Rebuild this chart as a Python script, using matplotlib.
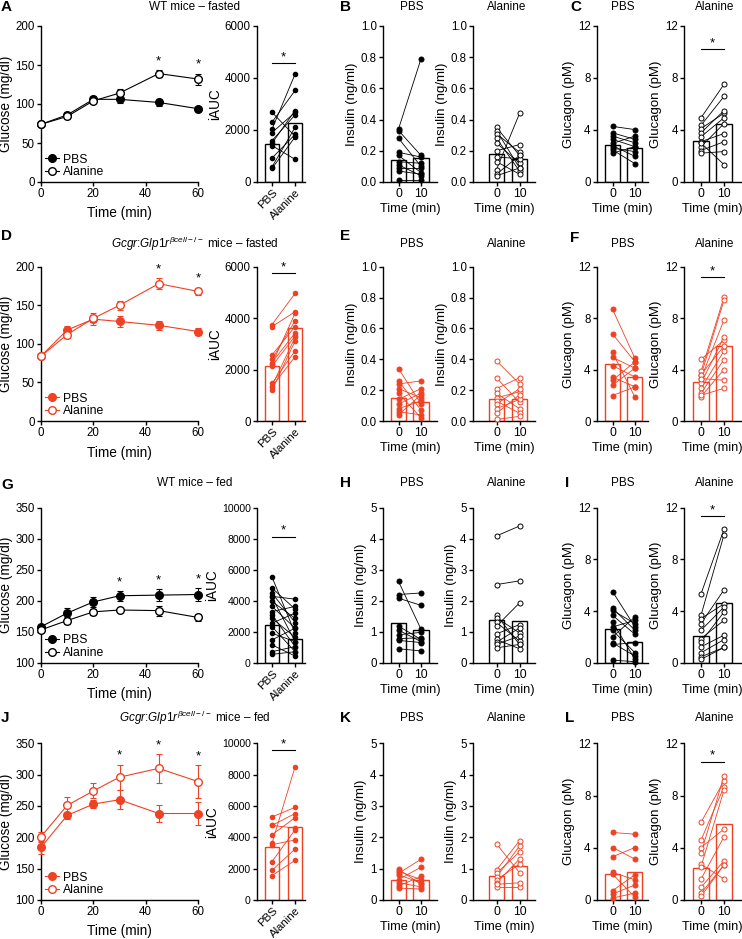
import numpy as np
import matplotlib
matplotlib.use('Agg')
import matplotlib.pyplot as plt
from matplotlib.lines import Line2D

plt.rcParams['font.family'] = ['Liberation Sans', 'DejaVu Sans']
plt.rcParams['mathtext.fontset'] = 'custom'
plt.rcParams['mathtext.rm'] = 'Liberation Sans'
plt.rcParams['mathtext.it'] = 'Liberation Sans:italic'
plt.rcParams['axes.linewidth'] = 1.0
plt.rcParams['xtick.major.width'] = 1.0
plt.rcParams['ytick.major.width'] = 1.0
plt.rcParams['xtick.major.size'] = 3
plt.rcParams['ytick.major.size'] = 3

RED = '#EF4123'
BLK = 'black'

times = [0, 10, 20, 30, 45, 60]

# ---- row A-C: WT fasted
a_pbs = [74, 86, 106, 106, 102, 94]
a_pbs_err = [3, 4, 4, 5, 5, 2]
a_ala = [74, 84, 104, 114, 139, 132]
a_ala_err = [2, 3, 3, 5, 4, 7]
a_stars = [45, 60]
a_auc_pbs = [2680, 2300, 2030, 1900, 1590, 1490, 1400, 920, 580, 520]
a_auc_ala = [1760, 3520, 4150, 2680, 2580, 2750, 870, 1830, 2100, 1730]
a_auc_bars = [1450, 2270]

b_pbs_0 = [0.34, 0.33, 0.28, 0.19, 0.17, 0.13, 0.11, 0.09, 0.07, 0.01]
b_pbs_10 = [0.79, 0.17, 0.10, 0.16, 0.06, 0.12, 0.04, 0.09, 0.05, 0.01]
b_pbs_bars = [0.14, 0.155]
b_ala_0 = [0.35, 0.33, 0.31, 0.28, 0.25, 0.20, 0.16, 0.13, 0.08, 0.05, 0.04]
b_ala_10 = [0.17, 0.09, 0.19, 0.07, 0.12, 0.24, 0.15, 0.05, 0.44, 0.17, 0.09]
b_ala_bars = [0.18, 0.15]

c_pbs_0 = [4.28, 3.78, 3.53, 3.28, 2.97, 2.8, 2.6, 2.47, 2.22]
c_pbs_10 = [4.03, 3.28, 3.02, 2.72, 3.53, 1.97, 2.34, 1.41, 2.72]
c_pbs_bars = [2.85, 2.6]
c_ala_0 = [4.94, 4.36, 4.11, 3.78, 3.48, 3.1, 2.72, 2.42, 2.22, 3.0]
c_ala_10 = [7.51, 6.58, 5.29, 5.49, 4.94, 3.73, 4.49, 3.1, 2.34, 1.34]
c_ala_bars = [3.15, 4.45]

# ---- row D-F: Gcgr:Glp1r fasted
d_pbs = [84, 118, 132, 129, 124, 116]
d_pbs_err = [3, 5, 8, 7, 6, 4]
d_ala = [84, 112, 133, 150, 178, 168]
d_ala_err = [3, 5, 5, 6, 7, 5]
d_stars = [45, 60]
d_auc_pbs = [3750, 3670, 2570, 2400, 2270, 2220, 2140, 1460, 1370, 1340, 1200]
d_auc_ala = [4960, 4250, 3670, 3900, 3430, 4190, 3300, 2730, 3250, 2500, 3110]
d_auc_bars = [2130, 3600]

e_pbs_0 = [0.34, 0.26, 0.24, 0.21, 0.18, 0.14, 0.11, 0.08, 0.06, 0.04]
e_pbs_10 = [0.11, 0.07, 0.26, 0.15, 0.02, 0.21, 0.18, 0.13, 0.04, 0.17]
e_pbs_bars = [0.15, 0.12]
e_ala_0 = [0.39, 0.28, 0.21, 0.18, 0.15, 0.13, 0.11, 0.08, 0.05, 0.01]
e_ala_10 = [0.24, 0.12, 0.28, 0.08, 0.19, 0.05, 0.21, 0.14, 0.17, 0.03]
e_ala_bars = [0.14, 0.14]

f_pbs_0 = [8.7, 6.77, 5.33, 4.95, 4.31, 3.42, 3.17, 2.79, 1.98]
f_pbs_10 = [4.87, 4.6, 1.85, 4.11, 3.42, 2.66, 4.6, 4.11, 2.66]
f_pbs_bars = [4.4, 3.4]
f_ala_0 = [4.8, 3.86, 3.55, 3.3, 2.92, 2.54, 2.16, 1.9, 3.6, 3.3, 2.0]
f_ala_10 = [6.29, 9.64, 9.4, 7.86, 6.54, 5.45, 4.77, 4.0, 5.83, 3.17, 2.54]
f_ala_bars = [3.05, 5.8]

# ---- row G-I: WT fed
g_pbs = [158, 180, 198, 208, 209, 210]
g_pbs_err = [3, 8, 8, 8, 10, 10]
g_ala = [153, 168, 182, 185, 184, 173]
g_ala_err = [3, 5, 5, 3, 8, 6]
g_stars = [30, 45, 60]
g_auc_pbs = [5530, 4820, 4490, 4280, 4230, 3950, 3630, 3300, 3090, 2870, 2550, 2330, 1900, 1470, 1150, 710, 540]
g_auc_ala = [1900, 3460, 2590, 4100, 1360, 2870, 2230, 3630, 1040, 1640, 3200, 710, 1360, 2230, 430, 1040, 710]
g_auc_bars = [2450, 1550]

h_pbs_0 = [2.62, 2.2, 2.08, 1.18, 1.05, 0.9, 0.78, 0.72, 0.45]
h_pbs_10 = [1.08, 2.25, 1.85, 0.75, 0.68, 0.98, 0.8, 0.65, 0.38]
h_pbs_bars = [1.28, 1.05]
h_ala_0 = [4.09, 2.52, 1.53, 1.45, 1.3, 1.18, 0.93, 0.75, 0.66, 0.59, 0.48]
h_ala_10 = [4.41, 2.64, 0.59, 0.96, 0.7, 1.93, 1.23, 0.45, 1.12, 0.86, 0.59]
h_ala_bars = [1.38, 1.36]

i_pbs_0 = [5.51, 4.23, 4.05, 3.67, 3.15, 2.77, 2.51, 2.0, 1.54, 1.41, 0.2]
i_pbs_10 = [2.77, 2.51, 3.03, 2.2, 0.26, 3.28, 0.77, 3.54, 0.51, 1.54, 0.08]
i_pbs_bars = [2.6, 1.6]
i_ala_0 = [5.33, 3.67, 3.41, 3.03, 2.51, 1.87, 1.62, 1.23, 0.77, 0.46, 0.26]
i_ala_10 = [10.33, 9.9, 4.56, 5.64, 4.31, 3.28, 3.92, 2.13, 1.79, 1.18, 1.18]
i_ala_bars = [2.05, 4.6]

# ---- row J-L: Gcgr:Glp1r fed
j_pbs = [184, 235, 253, 260, 238, 238]
j_pbs_err = [10, 5, 7, 15, 13, 19]
j_ala = [201, 251, 274, 296, 310, 289]
j_ala_err = [8, 14, 12, 20, 23, 26]
j_stars = [30, 45, 60]
j_auc_pbs = [5300, 4760, 4760, 4160, 3620, 3530, 2450, 1900, 1560]
j_auc_ala = [5910, 4590, 5520, 5260, 8500, 3830, 4480, 3250, 2530]
j_auc_bars = [3400, 4650]

k_pbs_0 = [0.98, 0.92, 0.85, 0.8, 0.65, 0.55, 0.45, 0.38]
k_pbs_10 = [0.5, 0.65, 1.3, 0.55, 1.05, 0.42, 0.75, 0.35]
k_pbs_bars = [0.65, 0.63]
k_ala_0 = [1.79, 0.96, 0.85, 0.74, 0.64, 0.55, 0.4, 0.5]
k_ala_10 = [0.87, 1.89, 1.54, 1.72, 1.15, 1.31, 0.4, 0.55]
k_ala_bars = [0.75, 1.08]

l_pbs_0 = [5.17, 4.02, 3.31, 2.11, 1.99, 0.71, 0.46, 0.15]
l_pbs_10 = [5.04, 3.13, 4.02, 1.55, 0.2, 1.94, 1.15, 0.53]
l_pbs_bars = [2.0, 2.15]
l_ala_0 = [5.94, 4.59, 4.02, 3.57, 2.75, 2.55, 1.6, 0.97, 0.51, 0.28]
l_ala_10 = [9.12, 8.66, 5.43, 9.5, 1.6, 8.41, 4.84, 3.0, 2.68, 2.68]
l_ala_bars = [2.45, 5.85]

W, H = 742, 939
fig = plt.figure(figsize=(W / 100, H / 100), dpi=100)


def px_axes(left, right, y0, y1):
    return fig.add_axes([left / W, 1 - y0 / H, (right - left) / W, (y0 - y1) / H])


def ftext(x, y, s, **kw):
    fig.text(x / W, 1 - y / H, s, va='center', **kw)


def style(ax):
    for s in ['top', 'right']:
        ax.spines[s].set_visible(False)
    ax.tick_params(labelsize=8.3, pad=1.5)


def line_panel(ax, pbs, pbs_err, ala, ala_err, stars, col, ylim, yticks):
    style(ax)
    ax.errorbar(times, pbs, yerr=pbs_err, fmt='-o', color=col, ms=5.5, lw=0.8,
                elinewidth=0.8, capsize=2, capthick=0.8, clip_on=False, zorder=3)
    ax.errorbar(times, ala, yerr=ala_err, fmt='-o', color=col, mfc='white', ms=5.5,
                lw=0.8, elinewidth=0.8, capsize=2, capthick=0.8, clip_on=False, zorder=4)
    for t in stars:
        i = times.index(t)
        top = max(pbs[i] + pbs_err[i], ala[i] + ala_err[i])
        ax.annotate('*', (t, top), xytext=(0, 2), textcoords='offset points',
                    ha='center', va='bottom', fontsize=9.5)
    ax.set_xlim(0, 60)
    ax.set_xticks([0, 20, 40, 60])
    ax.set_ylim(*ylim)
    ax.set_yticks(yticks)
    ax.set_xlabel('Time (min)', fontsize=9.8, labelpad=4.5)
    ax.set_ylabel('Glucose (mg/dl)', fontsize=9.8, labelpad=2)
    h1 = Line2D([], [], color=col, marker='o', ms=5.5, lw=0.8)
    h2 = Line2D([], [], color=col, marker='o', mfc='white', ms=5.5, lw=0.8)
    ax.legend([h1, h2], ['PBS', 'Alanine'], loc='lower left', frameon=False, fontsize=8.8,
              handlelength=1.2, handletextpad=0.3, labelspacing=0.05, borderaxespad=0.1,
              borderpad=0.2)


def auc_panel(ax, pbs, ala, bars, col, ylim, yticks, sig, tfs):
    style(ax)
    ax.tick_params(axis='y', labelsize=tfs)
    ax.bar([0, 1], bars, width=0.62, color='white', edgecolor=col, lw=1.0, zorder=1)
    for p, a in zip(pbs, ala):
        ax.plot([0, 1], [p, a], '-', color=col, lw=0.6, zorder=2)
    ax.plot(np.zeros(len(pbs)), pbs, 'o', color=col, ms=3, zorder=3)
    ax.plot(np.ones(len(ala)), ala, 'o', color=col, ms=3, zorder=3)
    ax.plot([0, 1], [sig, sig], color=BLK, lw=0.8)
    ax.text(0.5, sig, '*', ha='center', va='bottom', fontsize=9.5)
    ax.set_xlim(-0.65, 1.43)
    ax.set_ylim(*ylim)
    ax.set_yticks(yticks)
    ax.set_xticks([0, 1])
    ax.tick_params(axis='x', pad=1)
    ax.set_xticklabels(['PBS', 'Alanine'], rotation=45, ha='right', rotation_mode='anchor',
                       fontsize=8.2)
    ax.set_ylabel('iAUC', fontsize=9.8, labelpad=2)


def pair_panel(ax, v0, v10, bars, col, filled, xlim, ylim, yticks, ylabel, sig=None):
    style(ax)
    ax.bar([0, 1], bars, width=0.67, color='white', edgecolor=col, lw=1.0, zorder=1)
    for p, a in zip(v0, v10):
        ax.plot([0, 1], [p, a], '-', color=col, lw=0.6, zorder=2)
    mfc = col if filled else 'white'
    ax.plot(np.zeros(len(v0)), v0, 'o', color=col, mfc=mfc, ms=3.6, mew=0.7, zorder=3,
            clip_on=False)
    ax.plot(np.ones(len(v10)), v10, 'o', color=col, mfc=mfc, ms=3.6, mew=0.7, zorder=3,
            clip_on=False)
    if sig is not None:
        ax.plot([0, 1], [sig, sig], color=BLK, lw=0.8)
        ax.text(0.5, sig, '*', ha='center', va='bottom', fontsize=9.5)
    ax.set_xlim(*xlim)
    ax.set_ylim(*ylim)
    ax.set_yticks(yticks)
    ax.set_xticks([0, 1])
    ax.set_xticklabels(['0', '10'], fontsize=8.8)
    ax.set_xlabel('Time (min)', fontsize=9.2, labelpad=2)
    ax.set_ylabel(ylabel, fontsize=9.5, labelpad=2)


rows = [
    dict(y=(182, 26), col=BLK,
         line=(a_pbs, a_pbs_err, a_ala, a_ala_err, a_stars), gl=(0, 200), gt=[0, 50, 100, 150, 200],
         auc=(a_auc_pbs, a_auc_ala, a_auc_bars), al=(0, 6000), at=[0, 2000, 4000, 6000], asig=4560,
         afs=8.3,
         ins=[(b_pbs_0, b_pbs_10, b_pbs_bars), (b_ala_0, b_ala_10, b_ala_bars)],
         il=(0, 1.0), it=[0.0, 0.2, 0.4, 0.6, 0.8, 1.0], ifmt='%.1f',
         glu=[(c_pbs_0, c_pbs_10, c_pbs_bars), (c_ala_0, c_ala_10, c_ala_bars)], gsig=10.2),
    dict(y=(421, 266.7), col=RED,
         line=(d_pbs, d_pbs_err, d_ala, d_ala_err, d_stars), gl=(0, 200), gt=[0, 50, 100, 150, 200],
         auc=(d_auc_pbs, d_auc_ala, d_auc_bars), al=(0, 6000), at=[0, 2000, 4000, 6000], asig=5740,
         afs=8.3,
         ins=[(e_pbs_0, e_pbs_10, e_pbs_bars), (e_ala_0, e_ala_10, e_ala_bars)],
         il=(0, 1.0), it=[0.0, 0.2, 0.4, 0.6, 0.8, 1.0], ifmt='%.1f',
         glu=[(f_pbs_0, f_pbs_10, f_pbs_bars), (f_ala_0, f_ala_10, f_ala_bars)], gsig=11.2),
    dict(y=(662.7, 507.7), col=BLK,
         line=(g_pbs, g_pbs_err, g_ala, g_ala_err, g_stars), gl=(100, 350),
         gt=[100, 150, 200, 250, 300, 350],
         auc=(g_auc_pbs, g_auc_ala, g_auc_bars), al=(0, 10000),
         at=[0, 2000, 4000, 6000, 8000, 10000], asig=8120, afs=7.6,
         ins=[(h_pbs_0, h_pbs_10, h_pbs_bars), (h_ala_0, h_ala_10, h_ala_bars)],
         il=(0, 5), it=[0, 1, 2, 3, 4, 5], ifmt='%d',
         glu=[(i_pbs_0, i_pbs_10, i_pbs_bars), (i_ala_0, i_ala_10, i_ala_bars)], gsig=11.35),
    dict(y=(900, 743.3), col=RED,
         line=(j_pbs, j_pbs_err, j_ala, j_ala_err, j_stars), gl=(100, 350),
         gt=[100, 150, 200, 250, 300, 350],
         auc=(j_auc_pbs, j_auc_ala, j_auc_bars), al=(0, 10000),
         at=[0, 2000, 4000, 6000, 8000, 10000], asig=9570, afs=7.6,
         ins=[(k_pbs_0, k_pbs_10, k_pbs_bars), (k_ala_0, k_ala_10, k_ala_bars)],
         il=(0, 5), it=[0, 1, 2, 3, 4, 5], ifmt='%d',
         glu=[(l_pbs_0, l_pbs_10, l_pbs_bars), (l_ala_0, l_ala_10, l_ala_bars)], gsig=10.6),
]

for r in rows:
    y0, y1 = r['y']
    col = r['col']
    ax = px_axes(41, 198, y0, y1)
    line_panel(ax, *r['line'], col, r['gl'], r['gt'])
    ax = px_axes(257, 305, y0, y1)
    auc_panel(ax, *r['auc'], col, r['al'], r['at'], r['asig'], r['afs'])
    # insulin
    for k, (left, right, xl) in enumerate([(383, 437, (-0.69, 1.71)), (473, 535, (-1.02, 1.67))]):
        ax = px_axes(left, right, y0, y1)
        v0, v10, b = r['ins'][k]
        pair_panel(ax, v0, v10, b, col, k == 0, xl, r['il'], r['it'], 'Insulin (ng/ml)')
        ax.yaxis.set_major_formatter(matplotlib.ticker.FormatStrFormatter(r['ifmt']))
    # glucagon
    for k, (left, right, xl) in enumerate([(597, 648, (-0.69, 1.58)), (684, 741, (-0.74, 1.74))]):
        ax = px_axes(left, right, y0, y1)
        v0, v10, b = r['glu'][k]
        pair_panel(ax, v0, v10, b, col, k == 0, xl, (0, 12), [0, 4, 8, 12], 'Glucagon (pM)',
                   sig=r['gsig'] if k == 1 else None)

# titles
titles_y = [7, 244, 483, 718]
ko = '$\\it{Gcgr}$:$\\it{Glp1r}^{\\beta cell-/-}$'
row_titles = ['WT mice \u2013 fasted',
              ko + ' mice \u2013 fasted',
              'WT mice \u2013 fed',
              ko + ' mice \u2013 fed']
for ty, tt in zip(titles_y, row_titles):
    ftext(195, ty, tt, ha='center', fontsize=8.5)
    for cx, s in [(411.7, 'PBS'), (506.7, 'Alanine'), (623, 'PBS'), (715, 'Alanine')]:
        ftext(cx, ty, s, ha='center', fontsize=8.5)

letters = [('A', 1, 7), ('B', 340, 7), ('C', 570, 7),
           ('D', 1, 236), ('E', 340, 236), ('F', 570, 238),
           ('G', 1, 485), ('H', 340, 483), ('I', 565, 483),
           ('J', 1, 718), ('K', 340, 718), ('L', 565, 718)]
for s, x, y in letters:
    ftext(x, y, s, ha='left', fontsize=11, fontweight='bold')

fig.savefig('out.png', dpi=100)
